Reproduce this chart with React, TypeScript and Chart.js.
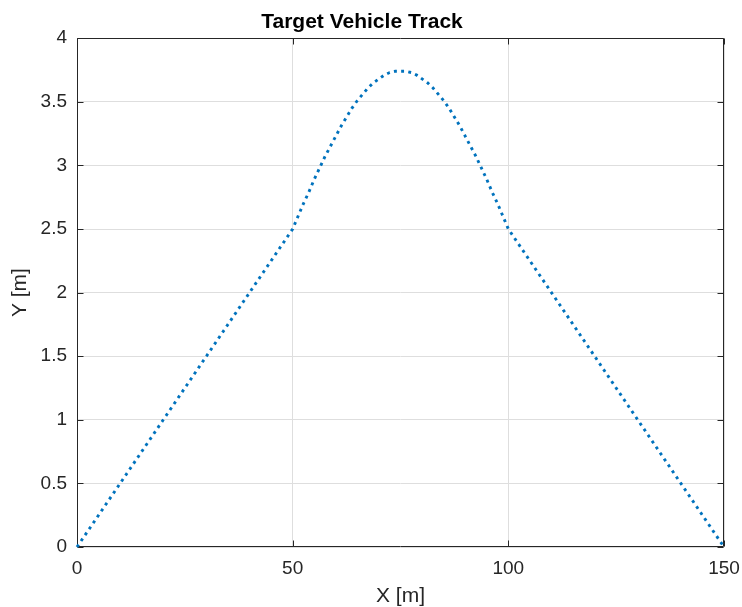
import React, { useEffect, useRef } from "react";
import { Chart, registerables } from "chart.js";

Chart.register(...registerables);

const TITLE = "Target Vehicle Track";
const X_LABEL = "X [m]";
const Y_LABEL = "Y [m]";

// Track samples
const trackX = [
  0, 10, 20, 30, 40, 50,
  51.25, 52.5, 53.75, 55, 56.25, 57.5, 58.75, 60, 61.25, 62.5, 63.75, 65,
  66.25, 67.5, 68.75, 70, 71.25, 72.5, 73.75, 75,
  76.25, 77.5, 78.75, 80, 81.25, 82.5, 83.75, 85, 86.25, 87.5, 88.75, 90,
  91.25, 92.5, 93.75, 95, 96.25, 97.5, 98.75, 100,
  110, 120, 130, 140, 150,
];
const trackY = [
  0, 0.5, 1.0, 1.5, 2.0, 2.5,
  2.6, 2.7, 2.79, 2.89, 2.98, 3.07, 3.15, 3.23, 3.31, 3.38, 3.45, 3.51,
  3.56, 3.61, 3.65, 3.68, 3.71, 3.73, 3.74, 3.74,
  3.74, 3.73, 3.71, 3.68, 3.65, 3.61, 3.56, 3.51, 3.45, 3.38, 3.31, 3.23,
  3.15, 3.07, 2.98, 2.89, 2.79, 2.7, 2.6, 2.5,
  2.0, 1.5, 1.0, 0.5, 0,
];

const X_MIN = 0;
const X_MAX = 150;
const X_STEP = 50;
const Y_MIN = 0;
const Y_MAX = 4;
const Y_STEP = 0.5;

const FONT = "'Liberation Sans', Arial, Helvetica, sans-serif";
const AXIS_COLOR = "#262626";

const boxPlugin = {
  id: "matlabBox",
  beforeDatasetsDraw(chart: any) {
    const { ctx, chartArea } = chart;
    const { left, right, top, bottom } = chartArea;
    const xs = chart.scales.x;
    const ys = chart.scales.y;
    const tl = 6;
    ctx.save();
    ctx.strokeStyle = AXIS_COLOR;
    ctx.lineWidth = 1;
    ctx.beginPath();
    const L = Math.round(left) + 0.5;
    const R = Math.round(right) - 0.5;
    const T = Math.round(top) + 0.5;
    const B = Math.round(bottom) - 0.5;
    ctx.rect(L, T, R - L, B - T);
    xs.ticks.forEach((t: any) => {
      const px = Math.round(xs.getPixelForValue(t.value)) + 0.5;
      ctx.moveTo(px, B);
      ctx.lineTo(px, B - tl);
      ctx.moveTo(px, T);
      ctx.lineTo(px, T + tl);
    });
    ys.ticks.forEach((t: any) => {
      const py = Math.round(ys.getPixelForValue(t.value)) + 0.5;
      ctx.moveTo(L, py);
      ctx.lineTo(L + tl, py);
      ctx.moveTo(R, py);
      ctx.lineTo(R - tl, py);
    });
    ctx.stroke();
    ctx.restore();
  },
};

export default function App() {
  const canvasRef = useRef<HTMLCanvasElement | null>(null);

  useEffect(() => {
    if (!canvasRef.current) return;
    const points = trackX.map((x, i) => ({ x, y: trackY[i] }));
    const chart = new Chart(canvasRef.current, {
      type: "line",
      data: {
        datasets: [
          {
            data: points,
            borderColor: "#0072BD",
            borderWidth: 2.9,
            borderDash: [2.9, 4.3],
            borderCapStyle: "butt",
            pointRadius: 0,
            tension: 0,
            fill: false,
            clip: 5,
          } as any,
        ],
      },
      options: {
        animation: false,
        responsive: true,
        maintainAspectRatio: false,
        layout: { padding: { left: 0, right: 18, top: 0, bottom: 0 } },
        plugins: {
          legend: { display: false },
          tooltip: { enabled: false },
          title: {
            display: true,
            text: TITLE,
            color: "#000000",
            font: { family: FONT, size: 21, weight: "bold" },
            padding: { top: 10, bottom: 3 },
          },
        },
        scales: {
          x: {
            type: "linear",
            min: X_MIN,
            max: X_MAX,
            ticks: {
              stepSize: X_STEP,
              color: AXIS_COLOR,
              font: { family: FONT, size: 19 },
              padding: 10,
              maxRotation: 0,
              callback: (v: any) => String(+v),
            },
            grid: { color: "#dedede", lineWidth: 1, drawTicks: false },
            border: { display: false },
            title: {
              display: true,
              text: X_LABEL,
              color: AXIS_COLOR,
              font: { family: FONT, size: 21 },
              padding: { top: 0, bottom: -2 },
            },
            afterFit(scale: any) {
              scale.height = 60;
              scale.paddingRight = 0;
              scale.paddingLeft = 0;
            },
          },
          y: {
            type: "linear",
            min: Y_MIN,
            max: Y_MAX,
            ticks: {
              stepSize: Y_STEP,
              color: AXIS_COLOR,
              font: { family: FONT, size: 19 },
              padding: 10,
              callback: (v: any) => String(+v),
            },
            grid: { color: "#dedede", lineWidth: 1, drawTicks: false },
            border: { display: false },
            title: {
              display: true,
              text: Y_LABEL,
              color: AXIS_COLOR,
              font: { family: FONT, size: 21 },
              padding: { top: 8, bottom: 0 },
            },
            afterFit(scale: any) {
              scale.width = 77;
              scale.paddingTop = 0;
              scale.paddingBottom = 0;
            },
          },
        },
      },
      plugins: [boxPlugin],
    });
    return () => chart.destroy();
  }, []);

  return (
    <div
      style={{
        position: "fixed",
        left: 0,
        top: 0,
        width: 742,
        height: 607,
        background: "#ffffff",
      }}
    >
      <canvas ref={canvasRef} />
    </div>
  );
}
